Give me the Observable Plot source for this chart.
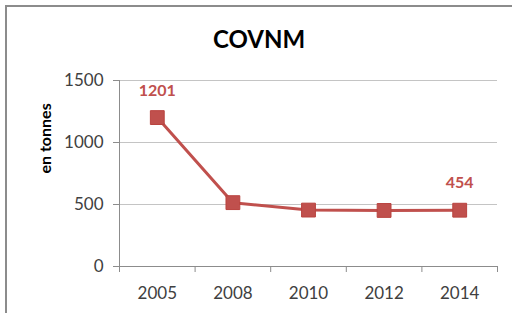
<!DOCTYPE html>
<html>
<head>
<meta charset="utf-8">
<script src="https://cdn.jsdelivr.net/npm/d3@7"></script>
<script src="https://cdn.jsdelivr.net/npm/@observablehq/plot@0.6"></script>
<style>
  html, body { margin: 0; padding: 0; background: #fff; }
  #wrap { position: relative; width: 512px; height: 313px; overflow: hidden; }
  #frame { position: absolute; left: 5px; top: 5px; width: 600px; height: 400px;
           border-top: 2px solid #8c8c8c; border-left: 2px solid #8c8c8c; }
  #title { position: absolute; left: 0; width: 518px; top: 24px; text-align: center;
           font-family: Lato, sans-serif; font-weight: bold; font-size: 24px; color: #000; }
  #chart { position: absolute; left: 0; top: 0; }
</style>
</head>
<body>
<div id="wrap">
  <div id="frame"></div>
  <div id="title">COVNM</div>
  <div id="chart"></div>
</div>
<script>
const years = ["2005", "2008", "2010", "2012", "2014"];
const values = [1201, 515, 455, 452, 454];
const dataLabels = ["1201", "", "", "", "454"];
const yTicks = [0, 500, 1000, 1500];
const yLabel = "en tonnes";

const red = "#c0504d";
const data = years.map((y, i) => ({i: i + 0.5, year: y, value: values[i], label: dataLabels[i]}));
const boundaries = d3.range(years.length + 1);
const centers = years.map((_, i) => i + 0.5);

const plot = Plot.plot({
  width: 512,
  height: 313,
  marginLeft: 119,
  marginRight: 15,
  marginTop: 80,
  marginBottom: 47,
  style: {fontFamily: "Lato, sans-serif", fontSize: "17px", color: "#404040", background: "transparent"},
  x: {domain: [0, years.length], axis: null, label: null},
  y: {domain: [0, 1500], axis: null, label: null},
  marks: [
    Plot.ruleY(yTicks.filter(v => v > 0), {stroke: "#c4c4c4", strokeWidth: 1}),
    Plot.axisY({ticks: yTicks, tickSize: 6, tickPadding: 10, stroke: "#8c8c8c", label: null, tickFormat: d => String(d)}),
    Plot.ruleX([0], {stroke: "#8c8c8c", strokeWidth: 1}),
    Plot.ruleY([0], {stroke: "#8c8c8c", strokeWidth: 1}),
    Plot.axisX({ticks: boundaries, tickSize: 6, label: null, tickFormat: () => "", stroke: "#8c8c8c"}),
    Plot.axisX({ticks: centers, tickSize: 0, tickPadding: 20, label: null, tickFormat: d => years[Math.round(d - 0.5)]}),
    Plot.line(data, {x: "i", y: "value", stroke: red, strokeWidth: 3}),
    Plot.dot(data, {x: "i", y: "value", symbol: "square", r: 7.8, fill: red, stroke: "#b9433f", strokeWidth: 1}),
    Plot.text(data.filter(d => d.label), {x: "i", y: "value", text: "label", dy: -27, fill: red, fontWeight: "bold", fontSize: 16}),
    Plot.text([yLabel], {frameAnchor: "left", text: d => d, rotate: -90, dx: -74, fontWeight: "bold", fontSize: 16, fill: "#000"})
  ]
});
document.getElementById("chart").appendChild(plot);
</script>
</body>
</html>
